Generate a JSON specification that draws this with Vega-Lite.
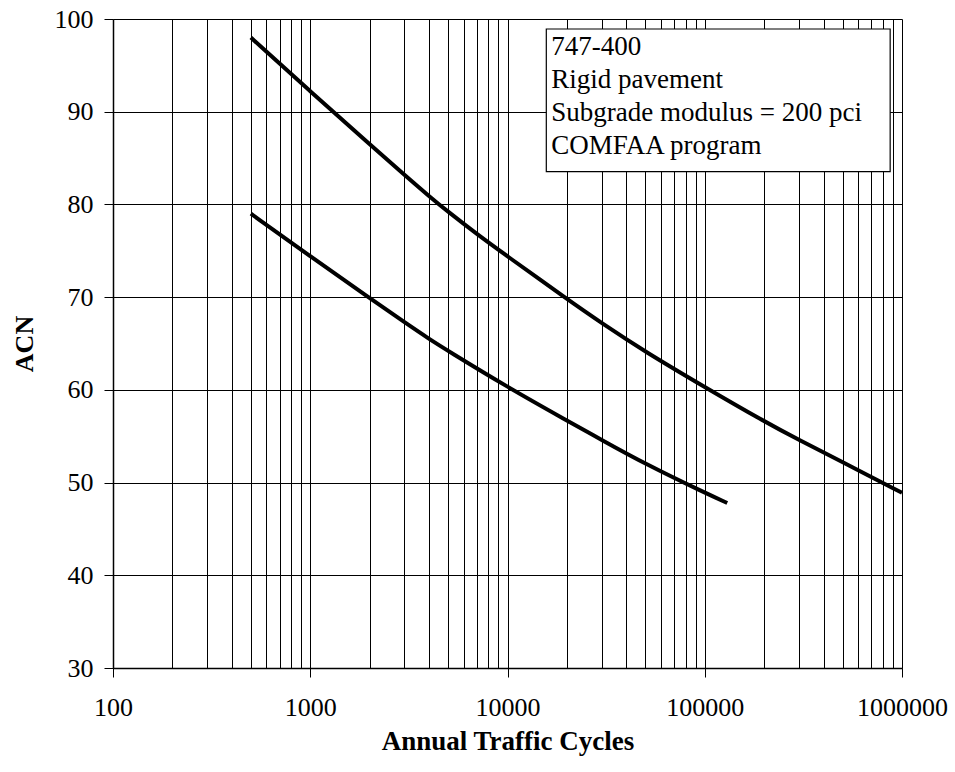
{
  "$schema": "https://vega.github.io/schema/vega-lite/v6.json",
  "width": 789,
  "height": 649,
  "autosize": {"type": "none"},
  "padding": {"left": 113, "top": 19, "right": 53, "bottom": 104},
  "background": "white",
  "config": {
    "view": {"stroke": null},
    "font": "Liberation Serif",
    "axis": {"labelFont": "Liberation Serif", "titleFont": "Liberation Serif", "labelColor": "black", "titleColor": "black"}
  },
  "datasets": {
    "curves": [
      {"series": "upper", "cycles": 500, "acn": 98.0},
      {"series": "upper", "cycles": 1000, "acn": 92.2},
      {"series": "upper", "cycles": 2000, "acn": 86.5},
      {"series": "upper", "cycles": 3000, "acn": 83.2},
      {"series": "upper", "cycles": 4000, "acn": 80.9},
      {"series": "upper", "cycles": 5000, "acn": 79.2},
      {"series": "upper", "cycles": 7000, "acn": 76.8},
      {"series": "upper", "cycles": 10000, "acn": 74.4},
      {"series": "upper", "cycles": 20000, "acn": 69.8},
      {"series": "upper", "cycles": 30000, "acn": 67.2},
      {"series": "upper", "cycles": 50000, "acn": 64.1},
      {"series": "upper", "cycles": 100000, "acn": 60.3},
      {"series": "upper", "cycles": 200000, "acn": 56.6},
      {"series": "upper", "cycles": 300000, "acn": 54.6},
      {"series": "upper", "cycles": 500000, "acn": 52.2},
      {"series": "upper", "cycles": 1000000, "acn": 48.9},
      {"series": "lower", "cycles": 500, "acn": 79.0},
      {"series": "lower", "cycles": 1000, "acn": 74.4},
      {"series": "lower", "cycles": 2000, "acn": 69.9},
      {"series": "lower", "cycles": 3000, "acn": 67.3},
      {"series": "lower", "cycles": 4000, "acn": 65.5},
      {"series": "lower", "cycles": 5000, "acn": 64.2},
      {"series": "lower", "cycles": 10000, "acn": 60.3},
      {"series": "lower", "cycles": 20000, "acn": 56.7},
      {"series": "lower", "cycles": 30000, "acn": 54.6},
      {"series": "lower", "cycles": 50000, "acn": 52.0},
      {"series": "lower", "cycles": 100000, "acn": 48.9},
      {"series": "lower", "cycles": 130000, "acn": 47.8}
    ],
    "box": [
      {"x1": 15730, "x2": 871000, "y1": 83.53, "y2": 98.92}
    ],
    "notes": [
      {"x": 16670, "y": 96.12, "label": "747-400"},
      {"x": 16670, "y": 92.56, "label": "Rigid pavement"},
      {"x": 16670, "y": 89.0, "label": "Subgrade modulus = 200 pci"},
      {"x": 16670, "y": 85.44, "label": "COMFAA program"}
    ]
  },
  "layer": [
    {
      "data": {"name": "curves"},
      "mark": {"type": "line", "strokeWidth": 4, "interpolate": "basis", "strokeCap": "butt"},
      "encoding": {
        "x": {
          "field": "cycles", "type": "quantitative",
          "scale": {"type": "log", "domain": [100, 1000000], "nice": false},
          "axis": {
            "title": "Annual Traffic Cycles",
            "titleFontSize": 27, "titleFontWeight": "bold", "titlePadding": 8,
            "values": [100,200,300,400,500,600,700,800,900,1000,2000,3000,4000,5000,6000,7000,8000,9000,10000,20000,30000,40000,50000,60000,70000,80000,90000,100000,200000,300000,400000,500000,600000,700000,800000,900000,1000000],
            "labelExpr": "(datum.value == 100 || datum.value == 1000 || datum.value == 10000 || datum.value == 100000 || datum.value == 1000000) ? format(datum.value, 'd') : ''",
            "labelFontSize": 26, "labelPadding": 17, "labelOverlap": false, "labelFlush": false, "labelBound": false,
            "tickSize": 9, "tickColor": "black", "tickWidth": 1,
            "tickOpacity": {"condition": {"test": "datum.value == 100 || datum.value == 1000 || datum.value == 10000 || datum.value == 100000 || datum.value == 1000000", "value": 1}, "value": 0},
            "domainColor": "black", "domainWidth": 1.5,
            "grid": true, "gridColor": "black", "gridWidth": 1, "gridOpacity": 1
          }
        },
        "y": {
          "field": "acn", "type": "quantitative",
          "scale": {"domain": [30, 100], "nice": false, "zero": false},
          "axis": {
            "title": "ACN", "titleFontSize": 26, "titleFontWeight": "bold", "titlePadding": 17,
            "values": [30,40,50,60,70,80,90,100],
            "labelFontSize": 26, "labelPadding": 11,
            "tickSize": 9, "tickColor": "black",
            "domainColor": "black", "domainWidth": 1.5,
            "grid": true, "gridColor": "black", "gridWidth": 1, "gridOpacity": 1
          }
        },
        "detail": {"field": "series"},
        "color": {"value": "black"}
      }
    },
    {
      "data": {"name": "box"},
      "mark": {"type": "rect", "fill": "white", "stroke": "black", "strokeWidth": 1.2},
      "encoding": {
        "x": {"field": "x1", "type": "quantitative"},
        "x2": {"field": "x2"},
        "y": {"field": "y1", "type": "quantitative"},
        "y2": {"field": "y2"}
      }
    },
    {
      "data": {"name": "notes"},
      "mark": {"type": "text", "align": "left", "baseline": "alphabetic", "font": "Liberation Serif", "fontSize": 27, "color": "black"},
      "encoding": {
        "x": {"field": "x", "type": "quantitative"},
        "y": {"field": "y", "type": "quantitative"},
        "text": {"field": "label"}
      }
    }
  ]
}
